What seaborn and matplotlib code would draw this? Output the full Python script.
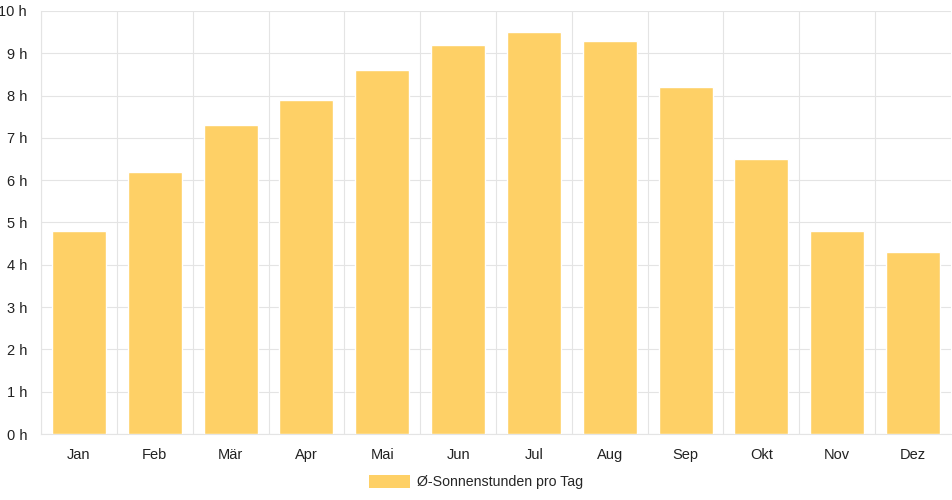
import numpy as np
import pandas as pd
import matplotlib
matplotlib.use("Agg")
import matplotlib.pyplot as plt
import seaborn as sns
from matplotlib.patches import Patch

months = ["Jan", "Feb", "Mär", "Apr", "Mai", "Jun", "Jul", "Aug", "Sep", "Okt", "Nov", "Dez"]
sun_hours = [4.8, 6.2, 7.3, 7.9, 8.6, 9.2, 9.5, 9.3, 8.2, 6.5, 4.8, 4.3]
series_label = "Ø-Sonnenstunden pro Tag"
y_ticks = list(range(0, 11))

BAR = "#fed066"
GRID = "#e4e4e4"

sns.set_theme(style="white")
plt.rcParams["font.family"] = ["Liberation Sans", "DejaVu Sans"]

df = pd.DataFrame({"Monat": months, "Stunden": sun_hours})

fig = plt.figure(figsize=(9.52, 5.0), dpi=100)
ax = fig.add_axes([41 / 952, 66 / 500, 910 / 952, 423 / 500])

sns.barplot(data=df, x="Monat", y="Stunden", color=BAR, saturation=1,
            width=0.71, ax=ax, zorder=3)

ax.set_xlim(-0.5, len(months) - 0.5)
ax.set_ylim(0, 10)
ax.set_yticks(y_ticks)
ax.set_yticklabels([f"{v} h" for v in y_ticks])
ax.set_xticks(np.arange(-0.5, len(months), 1.0), minor=True)

ax.grid(axis="y", which="major", color=GRID, linewidth=0.8, zorder=0)
ax.grid(axis="x", which="minor", color=GRID, linewidth=0.8, zorder=0)
ax.tick_params(axis="x", which="major", length=0, pad=10, labelsize=10.5, colors="#222222")
ax.tick_params(axis="x", which="minor", length=10, color=GRID, width=0.8)
ax.tick_params(axis="y", which="major", length=7, color=GRID, width=0.8, pad=3,
               labelsize=10.5, colors="#222222")

for side in ["top", "right"]:
    ax.spines[side].set_visible(False)
for side in ["left", "bottom"]:
    ax.spines[side].set_color(GRID)
    ax.spines[side].set_linewidth(0.8)

ax.set_xlabel("")
ax.set_ylabel("")

fig.legend(handles=[Patch(facecolor=BAR, edgecolor="none", label=series_label)],
           loc="center", bbox_to_anchor=(476 / 952, 1 - 482 / 500), frameon=False,
           fontsize=10.2, handlelength=2.9, handleheight=1.0, handletextpad=0.55)

fig.savefig("out.png", dpi=100)
